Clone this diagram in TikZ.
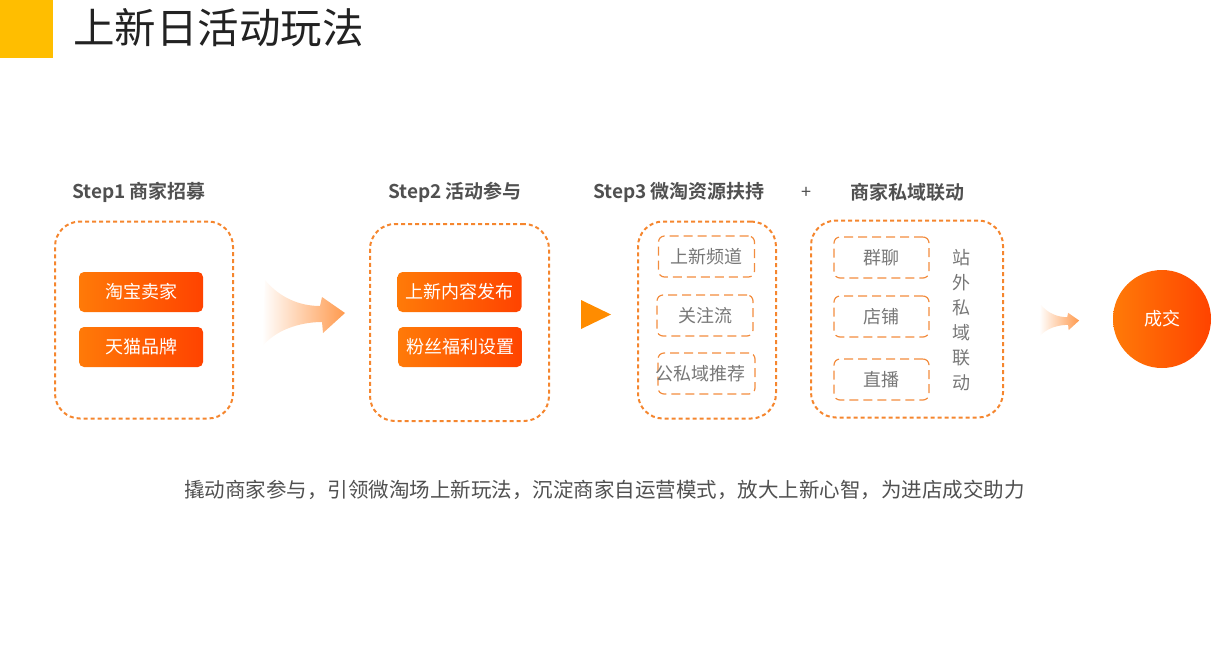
\documentclass[tikz,border=0pt]{standalone}
\usepackage{fontspec}
\setmainfont{Noto Sans CJK SC}[BoldFont={Noto Sans CJK SC Bold}]
\usepackage{xcolor}
\usepackage{tikz}
\definecolor{barYellow}{HTML}{FFBE00}
\definecolor{titleGray}{HTML}{222222}
\definecolor{stepGray}{HTML}{505050}
\definecolor{tagGray}{HTML}{777777}
\definecolor{dashOrange}{HTML}{F5862E}
\definecolor{tagOrange}{HTML}{F28C3E}
\definecolor{btnLeft}{HTML}{FF7A08}
\definecolor{btnRight}{HTML}{FF4300}
\definecolor{playOrange}{HTML}{FF8C00}
\definecolor{arrowOrange}{HTML}{FF9A4E}
\tikzset{
bigbox/.style = {rectangle, draw=dashOrange, line width=2pt, dash pattern=on 4pt off 3pt, rounded corners=25pt, minimum width = #1, minimum height=197pt},
bigbox/.default = 178pt,
btn/.style = {rectangle, rounded corners=5pt, left color=btnLeft, right color=btnRight, text=white, minimum width=124pt, minimum height=40pt, font=\fontsize{18}{22}\selectfont},
tag/.style = {rectangle, draw=tagOrange, line width=1.2pt, dash pattern=on 9pt off 5pt, rounded corners=6pt, text=tagGray, minimum width=96pt, minimum height=41pt, inner sep=0pt, font=\fontsize{18}{22}\selectfont},
steplabel/.style = {anchor=west, text=stepGray, font=\bfseries\fontsize{19}{23}\selectfont, inner sep=0pt},
fadearrow/.pic = {
  \shade[left color=white, right color=arrowOrange]
    (-38,-34) .. controls (-23,-16) and (-3,-8) .. (17,-8) -- (19,-17) -- (42,-1)
    -- (20,19) -- (19,8) .. controls (-3,8) and (-28,16) .. (-41,33) -- cycle;
}
}

\begin{document}
\begin{tikzpicture}[x=1pt, y=-1pt]
    \useasboundingbox (0,0) rectangle (1218,657);
    \fill[barYellow] (0,0) rectangle (53,58);
    \node[anchor=west, text=titleGray, inner sep=0pt, font=\fontsize{41.5}{46}\selectfont] (title) at (73,28) {上新日活动玩法};

    \node[steplabel] (step1) at (72,192) {Step1 商家招募};
    \node[steplabel] (step2) at (388,192) {Step2 活动参与};
    \node[steplabel] (step3) at (593,192) {Step3 微淘资源扶持};
    \node[text=stepGray, font=\fontsize{18}{22}\selectfont] (plus) at (806,193) {+};
    \node[steplabel] (step4) at (850,192) {商家私域联动};

    % step 1
    \node[bigbox=178pt] (box1) at (144,320) {};
    \node[btn] (btnTB) at (141,292) {淘宝卖家};
    \node[btn] (btnTM) at (141,347) {天猫品牌};
    \pic at (303,314) {fadearrow};

    % step 2
    \node[bigbox=179pt] (box2) at (459.5,322.5) {};
    \node[btn] (btnPub) at (459.5,292) {上新内容发布};
    \node[btn] (btnFan) at (460,347) {粉丝福利设置};
    \fill[playOrange] (581,300) -- (611,314.5) -- (581,329) -- cycle;

    % step 3
    \node[bigbox=138pt] (box3) at (707,320) {};
    \node[tag] (tagNew) at (706.5,256.5) {上新频道};
    \node[tag] (tagFeed) at (705,315.5) {关注流};
    \node[tag, minimum width=97pt] (tagRec) at (706.5,373.5) {\hspace*{-12pt}公私域推荐};

    % private domain
    \node[bigbox=192pt] (box4) at (907,319) {};
    \node[tag, minimum width=95pt] (tagGroup) at (881.5,257.5) {群聊};
    \node[tag, minimum width=95pt] (tagShop) at (881.5,316.5) {店铺};
    \node[tag, minimum width=95pt] (tagLive) at (881.5,379.5) {直播};
    \node[text=tagGray, align=center, inner sep=0pt, font=\fontsize{18}{25}\selectfont] (offsite) at (961,320.5) {站\\外\\私\\域\\联\\动};

    \pic[scale=0.48] at (1059,321) {fadearrow};
    \node[circle, minimum size=98pt, left color=btnLeft, right color=btnRight, text=white, font=\fontsize{18}{22}\selectfont] (deal) at (1162,319) {成交};

    \node[text=stepGray, inner sep=0pt, font=\fontsize{20.5}{25}\selectfont] (summary) at (604.5,490) {撬动商家参与，引领微淘场上新玩法，沉淀商家自运营模式，放大上新心智，为进店成交助力};
\end{tikzpicture}
\end{document}
